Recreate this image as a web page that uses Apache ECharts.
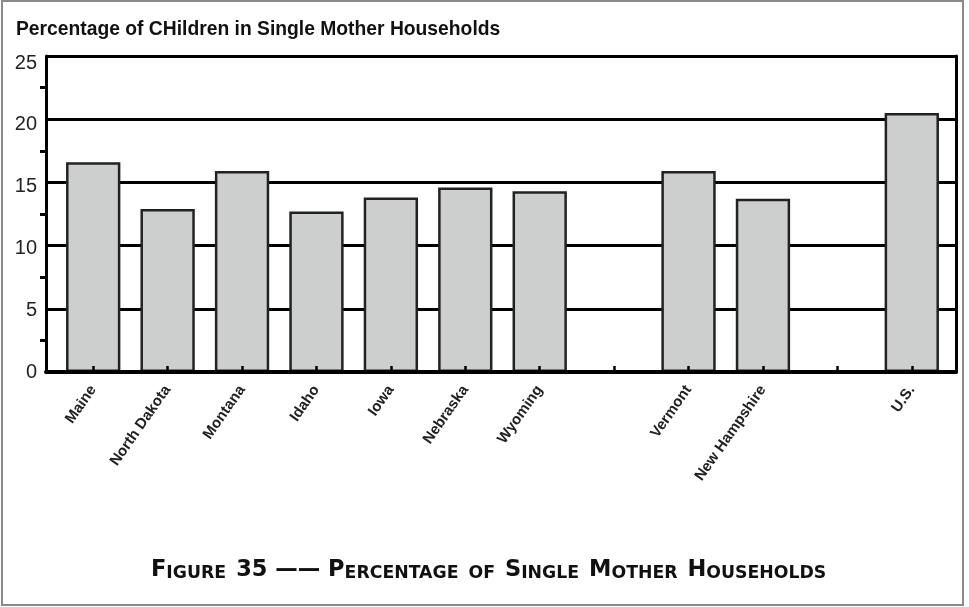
<!DOCTYPE html>
<html>
<head>
<meta charset="utf-8">
<script src="https://cdn.jsdelivr.net/npm/echarts@6/dist/echarts.min.js"></script>
<style>
html,body{margin:0;padding:0;background:#fff;}
#chart{width:969px;height:607px;}
</style>
</head>
<body>
<div id="chart"></div>
<script>
const categories = ['Maine','North Dakota','Montana','Idaho','Iowa','Nebraska','Wyoming','','Vermont','New Hampshire','','U.S.'];
const values = [16.6, 12.9, 15.9, 12.7, 13.8, 14.6, 14.3, null, 15.9, 13.7, null, 20.5];
const yTicks = [0, 5, 10, 15, 20, 25];
const chartTitle = 'Percentage of CHildren in Single Mother Households';

const chart = echarts.init(document.getElementById('chart'), null, {renderer:'canvas'});
const FONT = '"Liberation Sans", Arial, Helvetica, sans-serif';
const CAP = '"DejaVu Sans", sans-serif';
const yMin = yTicks[0], yMax = yTicks[yTicks.length - 1];

const option = {
  animation: false,
  backgroundColor: '#fff',
  title: [
    {
      text: chartTitle,
      left: 11, top: 15,
      textStyle: {fontFamily: FONT, fontWeight: 'bold', fontSize: 19.3, color: '#111'}
    },
    {
      text: '{b|F}{s|IGURE}  {b|35 —— P}{s|ERCENTAGE}  {s|OF}  {b|S}{s|INGLE}  {b|M}{s|OTHER}  {b|H}{s|OUSEHOLDS}',
      left: 146, top: 553,
      textStyle: {
        rich: {
          b: {fontFamily: CAP, fontWeight: 'bold', fontSize: 22.5, color: '#111', lineHeight: 24, verticalAlign: 'bottom'},
          s: {fontFamily: CAP, fontWeight: 'bold', fontSize: 17.3, color: '#111', lineHeight: 24, verticalAlign: 'bottom'}
        }
      }
    }
  ],
  graphic: [
    {type: 'rect', shape: {x: 2, y: 1, width: 961, height: 604}, style: {fill: 'none', stroke: '#8a8a8a', lineWidth: 2}, z: 100, silent: true}
  ],
  grid: [
    {left: 46, right: 13, top: 56, bottom: 235, containLabel: false},
    {left: 56, right: 20, top: 56, bottom: 235, containLabel: false},
    {left: 46, right: 13, top: 63, bottom: 235, containLabel: false}
  ],
  xAxis: [
    {
      type: 'category', gridIndex: 0, data: categories, z: 3,
      axisLine: {show: true, lineStyle: {color: '#000', width: 4}},
      axisTick: {show: false}, axisLabel: {show: false}, splitLine: {show: false}
    },
    {
      type: 'category', gridIndex: 1, data: categories, z: 4,
      axisLine: {show: false},
      axisTick: {show: true, inside: true, alignWithLabel: true, length: 6, lineStyle: {color: '#000', width: 2.5}},
      axisLabel: {
        show: true, interval: 0, rotate: 55, margin: 15, verticalAlign: 'middle',
        fontFamily: FONT, fontWeight: 'bold', fontSize: 15, color: '#222',
        padding: [0, 0, 0, 0]
      }
    },
    {
      type: 'category', gridIndex: 2, data: categories, show: false
    }
  ],
  yAxis: [
    {
      type: 'value', gridIndex: 0, min: yMin, max: yMax, interval: 5, z: 1,
      axisLine: {show: true, lineStyle: {color: '#000', width: 3}},
      axisTick: {show: false},
      minorTick: {show: true, splitNumber: 2, length: 6, lineStyle: {color: '#000', width: 3}},
      axisLabel: {show: false},
      splitLine: {show: true, lineStyle: {color: '#000', width: 3}}
    },
    {
      type: 'value', gridIndex: 0, position: 'right', min: yMin, max: yMax, interval: 5,
      axisLine: {show: true, lineStyle: {color: '#000', width: 3}},
      axisTick: {show: false}, axisLabel: {show: false}, splitLine: {show: false}
    },
    {
      type: 'value', gridIndex: 1, min: yMin, max: yMax, interval: 5,
      axisLine: {show: false}, axisTick: {show: false}, axisLabel: {show: false}, splitLine: {show: false}
    },
    {
      type: 'value', gridIndex: 2, min: yMin, max: yMax, interval: 5,
      axisLine: {show: false}, axisTick: {show: false}, splitLine: {show: false},
      axisLabel: {show: true, margin: 9, fontFamily: FONT, fontSize: 20, color: '#222'}
    }
  ],
  series: [
    {
      type: 'bar', xAxisIndex: 1, yAxisIndex: 2, data: values,
      barCategoryGap: '27%', z: 2,
      itemStyle: {color: '#cdcfce', borderColor: '#222', borderWidth: 2.5}
    }
  ]
};
chart.setOption(option);
</script>
</body>
</html>
